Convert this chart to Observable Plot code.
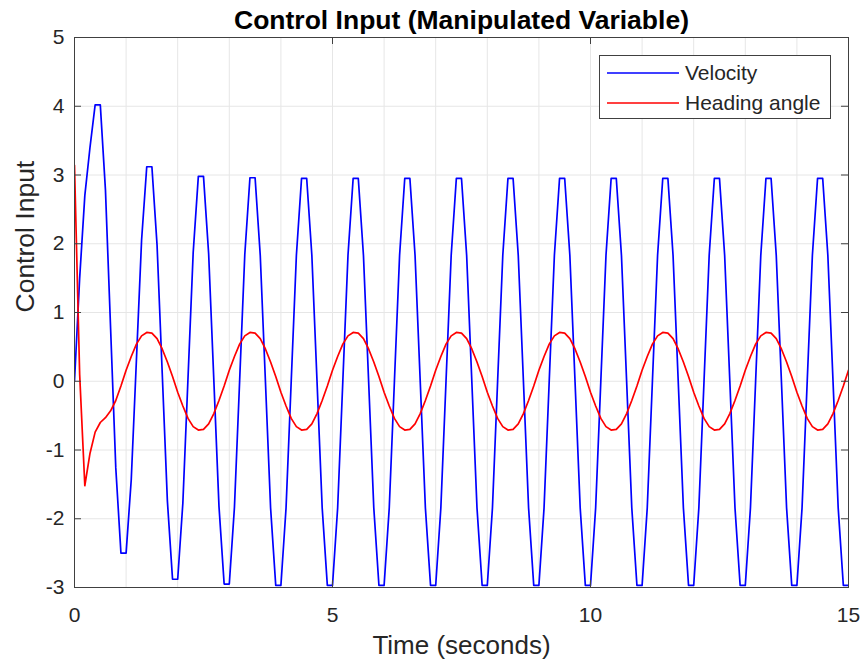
<!DOCTYPE html>
<html>
<head>
<meta charset="utf-8">
<script src="https://cdn.jsdelivr.net/npm/d3@7"></script>
<script src="https://cdn.jsdelivr.net/npm/@observablehq/plot@0.6"></script>
<style>
  html, body { margin: 0; padding: 0; background: white; }
  #wrap { position: relative; width: 863px; height: 664px; }
  #legend {
    position: absolute; left: 599px; top: 55px; width: 230px; height: 62px;
    border: 1px solid #404040; background: white;
    font-family: "Liberation Sans", Arial, sans-serif; font-size: 21px; color: #262626;
  }
  #legend .row { position: absolute; left: 0; height: 26px; display: flex; align-items: center; }
  #legend svg { margin-left: 7px; margin-right: 6px; }
</style>
</head>
<body>
<div id="wrap"><div id="legend"></div></div>
<script>
// ---- data ----
const sampleStep = 0.1; // seconds between samples
const seriesNames = ["Velocity", "Heading angle"];
const seriesColors = ["#0000ff", "#ff0000"];

const velocity = [
  0, 1.5, 2.7, 3.4, 4.02, 4.02, 2.78, 0.76, -1.26, -2.5,
  -2.5, -1.43, 0.31, 2.05, 3.12, 3.12, 1.98, 0.12, -1.74, -2.88,
  -2.88, -1.77, 0.05, 1.87, 2.98, 2.98, 1.85, 0.02, -1.82, -2.95,
  -2.95, -1.83, 0.0, 1.84, 2.96, 2.96, 1.83, 0.0, -1.84, -2.97,
  -2.97, -1.84, 0.0, 1.83, 2.95, 2.95, 1.83, 0.0, -1.84, -2.97,
  -2.97, -1.84, 0.0, 1.83, 2.95, 2.95, 1.83, 0.0, -1.84, -2.97,
  -2.97, -1.84, 0.0, 1.83, 2.95, 2.95, 1.83, 0.0, -1.84, -2.97,
  -2.97, -1.84, 0.0, 1.83, 2.95, 2.95, 1.83, 0.0, -1.84, -2.97,
  -2.97, -1.84, 0.0, 1.83, 2.95, 2.95, 1.83, 0.0, -1.84, -2.97,
  -2.97, -1.84, 0.0, 1.83, 2.95, 2.95, 1.83, 0.0, -1.84, -2.97,
  -2.97, -1.84, 0.0, 1.83, 2.95, 2.95, 1.83, 0.0, -1.84, -2.97,
  -2.97, -1.84, 0.0, 1.83, 2.95, 2.95, 1.83, 0.0, -1.84, -2.97,
  -2.97, -1.84, 0.0, 1.83, 2.95, 2.95, 1.83, 0.0, -1.84, -2.97,
  -2.97, -1.84, 0.0, 1.83, 2.95, 2.95, 1.83, 0.0, -1.84, -2.97,
  -2.97, -1.84, 0.0, 1.83, 2.95, 2.95, 1.83, 0.0, -1.84, -2.97,
  -2.97
];

const heading = [
  3.14, 0.1, -1.52, -1.05, -0.74, -0.6, -0.53, -0.43, -0.28, -0.07,
  0.16, 0.36, 0.54, 0.66, 0.71, 0.70, 0.62, 0.47, 0.28, 0.07,
  -0.16, -0.36, -0.54, -0.66, -0.71, -0.70, -0.62, -0.47, -0.28, -0.07,
  0.16, 0.36, 0.54, 0.66, 0.71, 0.70, 0.62, 0.47, 0.28, 0.07,
  -0.16, -0.36, -0.54, -0.66, -0.71, -0.70, -0.62, -0.47, -0.28, -0.07,
  0.16, 0.36, 0.54, 0.66, 0.71, 0.70, 0.62, 0.47, 0.28, 0.07,
  -0.16, -0.36, -0.54, -0.66, -0.71, -0.70, -0.62, -0.47, -0.28, -0.07,
  0.16, 0.36, 0.54, 0.66, 0.71, 0.70, 0.62, 0.47, 0.28, 0.07,
  -0.16, -0.36, -0.54, -0.66, -0.71, -0.70, -0.62, -0.47, -0.28, -0.07,
  0.16, 0.36, 0.54, 0.66, 0.71, 0.70, 0.62, 0.47, 0.28, 0.07,
  -0.16, -0.36, -0.54, -0.66, -0.71, -0.70, -0.62, -0.47, -0.28, -0.07,
  0.16, 0.36, 0.54, 0.66, 0.71, 0.70, 0.62, 0.47, 0.28, 0.07,
  -0.16, -0.36, -0.54, -0.66, -0.71, -0.70, -0.62, -0.47, -0.28, -0.07,
  0.16, 0.36, 0.54, 0.66, 0.71, 0.70, 0.62, 0.47, 0.28, 0.07,
  -0.16, -0.36, -0.54, -0.66, -0.71, -0.70, -0.62, -0.47, -0.28, -0.07,
  0.16
];

const xTicks = [0, 5, 10, 15];
const xGrid = [0, 1, 2, 3, 4, 5, 6, 7, 8, 9, 10, 11, 12, 13, 14, 15];
const yTicks = [-3, -2, -1, 0, 1, 2, 3, 4, 5];
const titleText = "Control Input (Manipulated Variable)";
const xLabelText = "Time (seconds)";
const yLabelText = "Control Input";

// ---- build rows ----
const rows = [];
velocity.forEach((v, i) => rows.push({t: i * sampleStep, value: v, series: seriesNames[0]}));
heading.forEach((v, i) => rows.push({t: i * sampleStep, value: v, series: seriesNames[1]}));

const W = 863, H = 664, mL = 74, mR = 15, mT = 37, mB = 77;
const plotW = W - mL - mR, plotH = H - mT - mB;
const axisColor = "#262626";
const frameColor = "#404040";
const font = "Liberation Sans, Arial, Helvetica, sans-serif";

const chart = Plot.plot({
  width: W, height: H,
  marginLeft: mL, marginRight: mR, marginTop: mT, marginBottom: mB,
  x: {domain: [0, 15]},
  y: {domain: [-3, 5]},
  color: {domain: seriesNames, range: seriesColors},
  style: {fontFamily: font, background: "white", color: axisColor},
  marks: [
    Plot.gridX(xGrid, {stroke: "#e6e6e6", strokeOpacity: 1}),
    Plot.gridY(yTicks, {stroke: "#e6e6e6", strokeOpacity: 1}),
    Plot.line(rows, {x: "t", y: "value", z: "series", stroke: "series", strokeWidth: 1.7, clip: true}),
    Plot.frame({stroke: frameColor, strokeWidth: 1}),
    Plot.tickY(yTicks, {y: d => d, stroke: frameColor, insetRight: plotW - 7}),
    Plot.tickY(yTicks, {y: d => d, stroke: frameColor, insetLeft: plotW - 7}),
    Plot.tickX(xTicks, {x: d => d, stroke: frameColor, insetTop: plotH - 7}),
    Plot.tickX(xTicks, {x: d => d, stroke: frameColor, insetBottom: plotH - 7}),
    Plot.axisX(xTicks, {tickSize: 0, tickPadding: 20, fontSize: 21, label: null, tickFormat: d => String(d)}),
    Plot.axisY(yTicks, {tickSize: 0, tickPadding: 10, fontSize: 21, label: null, tickFormat: d => String(d)}),
    Plot.text([titleText], {text: d => d, frameAnchor: "top", lineAnchor: "middle", dy: -17, fontSize: 26.5, fontWeight: "bold", fill: "black"}),
    Plot.text([xLabelText], {text: d => d, frameAnchor: "bottom", lineAnchor: "middle", dy: 58, fontSize: 26, fill: axisColor}),
    Plot.text([yLabelText], {text: d => d, frameAnchor: "left", lineAnchor: "middle", dx: -49, rotate: -90, fontSize: 26.5, fill: axisColor})
  ]
});

const wrap = document.getElementById("wrap");
wrap.insertBefore(chart, wrap.firstChild);

// legend
const legend = document.getElementById("legend");
seriesNames.forEach((name, i) => {
  const row = document.createElement("div");
  row.className = "row";
  row.style.top = (4 + i * 30) + "px";
  row.innerHTML = `<svg width="72" height="4"><line x1="0" x2="72" y1="2" y2="2" stroke="${seriesColors[i]}" stroke-width="1.5"/></svg><span>${name}</span>`;
  legend.appendChild(row);
});
</script>
</body>
</html>
